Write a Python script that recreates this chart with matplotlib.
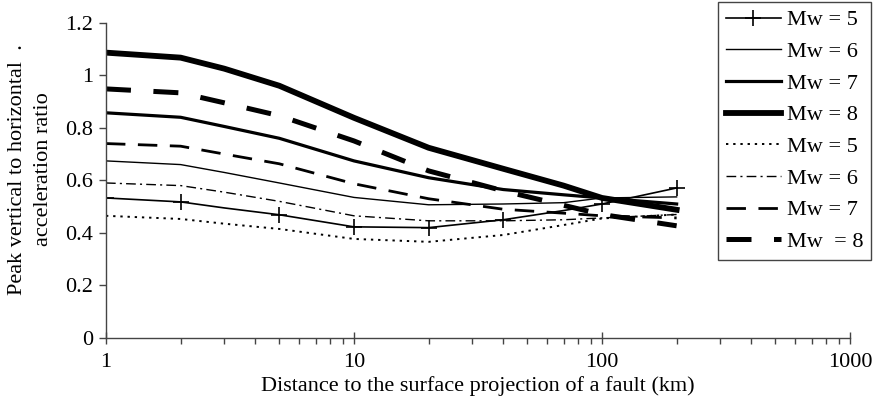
import matplotlib.pyplot as plt
import matplotlib.ticker as ticker

plt.rcParams['font.family'] = ['Liberation Serif', 'DejaVu Serif']
plt.rcParams['font.size'] = 16

# distance (km) where the curves were read
dist = [1, 2, 3, 5, 10, 20, 40, 70, 100, 200]

# solid lines
mw5 = [0.533, 0.518, 0.495, 0.469, 0.423, 0.420, 0.450, 0.485, 0.510, 0.571]
mw6 = [0.674, 0.660, 0.630, 0.590, 0.535, 0.507, 0.510, 0.515, 0.533, 0.537]
mw7 = [0.857, 0.840, 0.805, 0.760, 0.674, 0.610, 0.565, 0.545, 0.533, 0.510]
mw8 = [1.086, 1.067, 1.025, 0.960, 0.838, 0.724, 0.644, 0.580, 0.533, 0.488]

# broken lines
mw5b = [0.465, 0.453, 0.435, 0.415, 0.377, 0.366, 0.392, 0.430, 0.455, 0.470]
mw6b = [0.590, 0.580, 0.555, 0.520, 0.465, 0.446, 0.446, 0.450, 0.457, 0.470]
mw7b = [0.740, 0.730, 0.700, 0.663, 0.587, 0.530, 0.490, 0.475, 0.465, 0.457]
mw8b = [0.948, 0.933, 0.895, 0.846, 0.750, 0.636, 0.560, 0.505, 0.470, 0.427]

# '+' marks only sit at these distances
marked = [0, 1, 3, 4, 5, 6, 8, 9]

labels = ['Mw = 5', 'Mw = 6', 'Mw = 7', 'Mw = 8',
          'Mw = 5', 'Mw = 6', 'Mw = 7', 'Mw  = 8']

fig = plt.figure(figsize=(8.75, 4.03), dpi=100)
ax = fig.add_axes([0.1211, 0.1613, 0.8503, 0.7824])

ax.plot(dist, mw5, color='black', lw=1.2, marker='+', ms=11, mew=1.2,
        markevery=marked)
ax.plot(dist, mw6, color='black', lw=1.0)
ax.plot(dist, mw7, color='black', lw=2.3)
ax.plot(dist, mw8, color='black', lw=4.2)
ax.plot(dist, mw5b, color='black', lw=1.4, linestyle=(0, (1.2, 2.5)))
ax.plot(dist, mw6b, color='black', lw=1.0, linestyle=(0, (7, 3, 1.5, 3)))
ax.plot(dist, mw7b, color='black', lw=2.0, linestyle=(0, (7, 4.5)))
ax.plot(dist, mw8b, color='black', lw=3.6, linestyle=(0, (5, 4.5)))

ax.set_xscale('log')
ax.set_xlim(1, 1000)
ax.set_ylim(0, 1.2)
ax.set_yticks([0, 0.2, 0.4, 0.6, 0.8, 1.0, 1.2])
ax.yaxis.set_major_formatter(ticker.FuncFormatter(lambda v, p: '%g' % v))
ax.xaxis.set_major_formatter(ticker.FuncFormatter(lambda v, p: '%g' % v))
ax.xaxis.set_minor_locator(ticker.LogLocator(base=10, subs=range(2, 10)))
ax.xaxis.set_minor_formatter(ticker.NullFormatter())

for s in ['top', 'right']:
    ax.spines[s].set_visible(False)
for s in ['left', 'bottom']:
    ax.spines[s].set_color('#444444')
    ax.spines[s].set_linewidth(1.0)

ax.tick_params(axis='y', direction='out', length=5, width=1, colors='#444444',
               labelcolor='black', pad=4)
ax.tick_params(axis='x', which='major', direction='inout', length=9, width=1,
               colors='#444444', labelcolor='black', pad=6)
ax.tick_params(axis='x', which='minor', direction='out', length=4, width=1,
               colors='#444444')

ax.set_xlabel('Distance to the surface projection of a fault (km)', labelpad=3)
fig.text(0.035, 0.58, 'Peak vertical to horizontal  .\nacceleration ratio',
         rotation=90, ha='center', va='center', multialignment='center',
         linespacing=1.5)

leg = ax.legend(ax.get_lines(), labels, loc='upper right',
                bbox_to_anchor=(871 / 875, 1 - 2 / 403),
                bbox_transform=fig.transFigure,
                handlelength=2.5, handletextpad=0.25, labelspacing=0.5,
                borderpad=0.35, borderaxespad=0, fancybox=False,
                frameon=True, framealpha=1)
leg.get_frame().set_edgecolor('#444444')
leg.get_frame().set_linewidth(1.0)

plt.savefig('out.png', dpi=100)
